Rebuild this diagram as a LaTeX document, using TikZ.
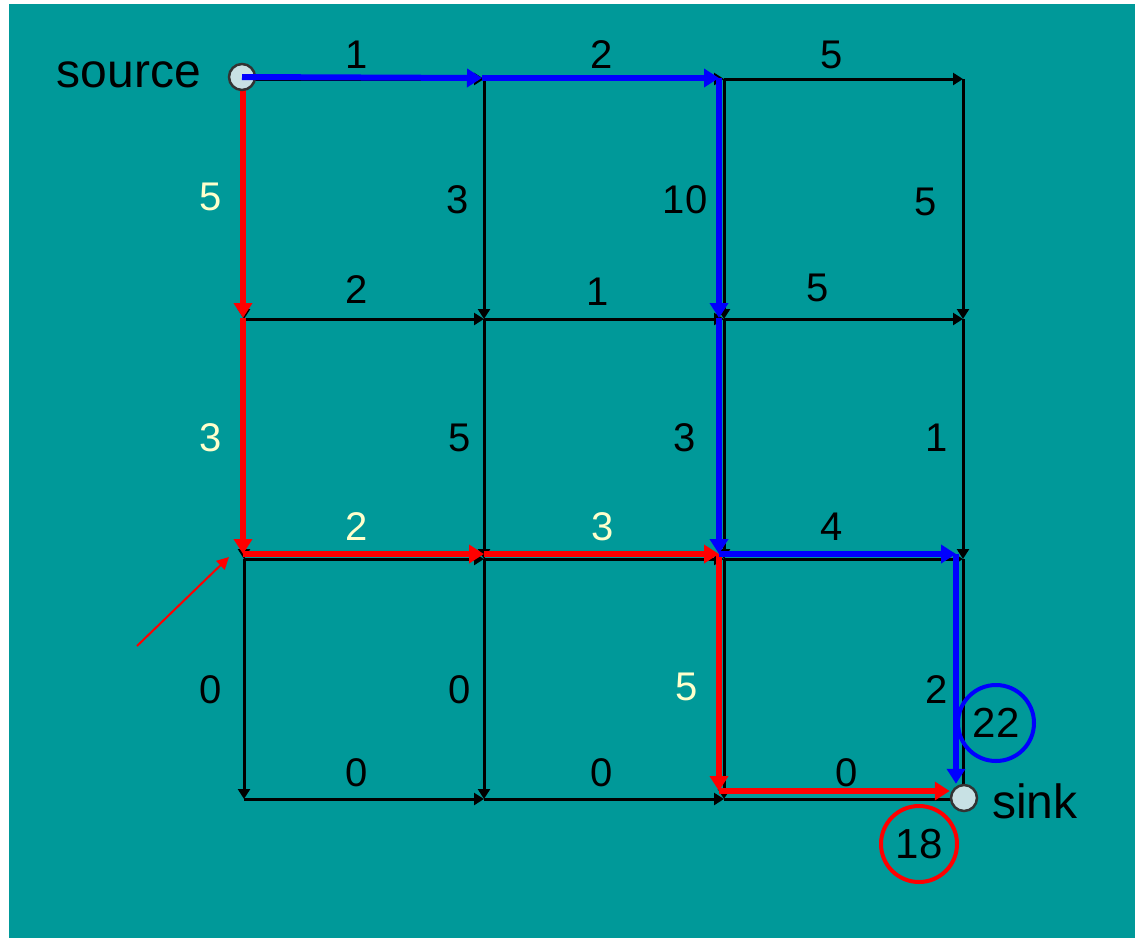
\documentclass[tikz,border=0pt]{standalone}
\usepackage{fontspec}
\setmainfont{Liberation Sans}
\usetikzlibrary{arrows.meta}
\definecolor{bgteal}{RGB}{0,153,153}
\definecolor{nodefill}{RGB}{200,225,228}
\definecolor{cream}{RGB}{255,255,204}
\definecolor{pblue}{RGB}{0,0,255}
\definecolor{pred}{RGB}{255,0,0}
\tikzset{
  blk/.style={draw=black,line width=3pt,-{Triangle[width=12pt,length=10pt]}},
  bluepath/.style={draw=pblue,line width=6pt,-{Triangle[width=18pt,length=15pt]}},
  redpath/.style={draw=pred,line width=6pt,-{Triangle[width=18pt,length=15pt]}},
  lab/.style={font=\fontsize{40}{40}\selectfont,text=black,inner sep=0pt},
  hlab/.style={font=\fontsize{40}{40}\selectfont,text=cream,inner sep=0pt},
  term/.style={circle,draw=black!80,line width=2.5pt,fill=nodefill,minimum size=26pt,inner sep=0pt},
  big/.style={font=\fontsize{48}{48}\selectfont,text=black,inner sep=0pt},
  ring/.style={circle,line width=4pt,minimum size=76pt,inner sep=0pt,font=\fontsize{42}{42}\selectfont}
}
\begin{document}
\begin{tikzpicture}[x=1pt,y=-1pt]
\useasboundingbox (0,0) rectangle (1135,938);
\fill[white] (0,0) rectangle (1135,938);
\fill[bgteal] (9,4) rectangle (1135,938);

% black grid coordinates
\foreach \c/\x in {0/244,1/484,2/724,3/963}{
  \foreach \r/\y in {0/79,1/319,2/559,3/799}{
    \coordinate (b-\c-\r) at (\x,\y);
  }
}
% black edges
\foreach \r in {0,1,2,3}{
  \draw[blk] (b-0-\r) -- (b-1-\r);
  \draw[blk] (b-1-\r) -- (b-2-\r);
  \draw[blk] (b-2-\r) -- (b-3-\r);
}
\foreach \c in {0,1,2,3}{
  \draw[blk] (b-\c-0) -- (b-\c-1);
  \draw[blk] (b-\c-1) -- (b-\c-2);
  \draw[blk] (b-\c-2) -- (b-\c-3);
}

% coloured path coordinates
\coordinate (s0) at (243,78);
\coordinate (t1) at (482,78);
\coordinate (t2) at (719,78);
\coordinate (m21) at (719,318);
\coordinate (m22) at (719,554);
\coordinate (m32) at (956,554);
\coordinate (l01) at (243,318);
\coordinate (l02) at (243,554);
\coordinate (l12) at (484,554);
\coordinate (l23) at (719,791);

% red path
\draw[redpath] (s0) -- (l01);
\draw[redpath] (l01) -- (l02);
\draw[redpath] (l02) -- (l12);
\draw[redpath] (l12) -- (m22);
\draw[redpath] (m22) -- (l23);

\node[term] (source) at (242,77) {};
\node[term] (sink) at (964,798) {};

\draw[redpath] (l23) -- (sink.west |- l23);

% blue path
\draw[bluepath] (source.center) -- (t1);
\draw[bluepath] (t1) -- (t2);
\draw[bluepath] (t2) -- (m21);
\draw[bluepath] (m21) -- (m22);
\draw[bluepath] (m22) -- (m32);
\draw[bluepath] (m32) -- (m32 |- sink.north);

\node[big,anchor=east] (srclab) at (201,75) {source};
\node[big,anchor=west] (sinklab) at (992,801) {sink};

% horizontal labels
\node[lab] (h00) at (357,55) {1};
\node[lab] (h10) at (602,55) {2};
\node[lab] (h20) at (832,55) {5};
\node[lab] (h01) at (357,290) {2};
\node[lab] (h11) at (598,292) {1};
\node[lab] (h21) at (818,288) {5};
\node[hlab] (h02) at (357,527) {2};
\node[hlab] (h12) at (603,527) {3};
\node[lab] (h22) at (832,527) {4};
\node[lab] (h03) at (357,773) {0};
\node[lab] (h13) at (602,773) {0};
\node[lab] (h23) at (847,773) {0};
% vertical labels
\node[hlab] (v00) at (211,197) {5};
\node[hlab] (v01) at (211,438) {3};
\node[lab] (v02) at (211,690) {0};
\node[lab] (v10) at (458,200) {3};
\node[lab] (v11) at (460,438) {5};
\node[lab] (v12) at (460,690) {0};
\node[lab] (v20) at (685,200) {10};
\node[lab] (v21) at (685,438) {3};
\node[hlab] (v22) at (687,687) {5};
\node[lab] (v30) at (926,202) {5};
\node[lab] (v31) at (937,438) {1};
\node[lab] (v32) at (937,690) {2};

% totals
\node[ring,draw=pblue] (tblue) at (996,723) {22};
\node[ring,draw=pred] (tred) at (919,844) {18};

% pointer arrow
\coordinate (ptail) at (137,646);
\coordinate (phead) at (229,557);
\draw[pred,line width=2pt,-{Triangle[width=12pt,length=12pt]}] (ptail) -- (phead);
\end{tikzpicture}
\end{document}
